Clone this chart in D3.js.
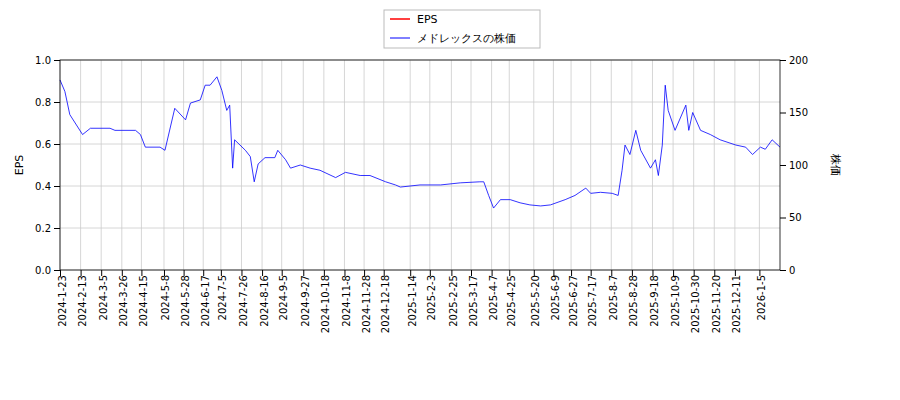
<!DOCTYPE html><html><head><meta charset="utf-8"><script src="https://cdn.jsdelivr.net/npm/d3@7"></script>
<style>body{margin:0;background:#fff}text{font-family:"DejaVu Sans",sans-serif}</style></head><body><svg id="c" width="900" height="400"></svg><script>
const tickLabels=["2024-1-23","2024-2-13","2024-3-5","2024-3-26","2024-4-15","2024-5-8","2024-5-28","2024-6-17","2024-7-5","2024-7-26","2024-8-16","2024-9-5","2024-9-27","2024-10-18","2024-11-8","2024-11-28","2024-12-18","2025-1-14","2025-2-3","2025-2-25","2025-3-17","2025-4-7","2025-4-25","2025-5-20","2025-6-9","2025-6-27","2025-7-17","2025-8-7","2025-8-28","2025-9-18","2025-10-9","2025-10-30","2025-11-20","2025-12-11","2026-1-5"];
const priceDates=["2024-01-23","2024-01-28","2024-02-02","2024-02-15","2024-02-23","2024-03-14","2024-03-19","2024-04-09","2024-04-14","2024-04-19","2024-05-04","2024-05-09","2024-05-19","2024-05-30","2024-06-04","2024-06-14","2024-06-19","2024-06-24","2024-07-01","2024-07-06","2024-07-11","2024-07-14","2024-07-17","2024-07-19","2024-07-30","2024-08-04","2024-08-08","2024-08-12","2024-08-19","2024-08-29","2024-09-01","2024-09-09","2024-09-14","2024-09-24","2024-10-04","2024-10-14","2024-10-30","2024-11-09","2024-11-24","2024-12-04","2024-12-20","2024-12-30","2025-01-04","2025-01-24","2025-02-14","2025-03-06","2025-03-26","2025-03-30","2025-04-04","2025-04-09","2025-04-16","2025-04-26","2025-05-06","2025-05-16","2025-05-27","2025-06-06","2025-06-21","2025-07-01","2025-07-12","2025-07-17","2025-07-27","2025-08-08","2025-08-14","2025-08-18","2025-08-21","2025-08-26","2025-09-01","2025-09-06","2025-09-16","2025-09-21","2025-09-24","2025-09-28","2025-10-01","2025-10-04","2025-10-11","2025-10-22","2025-10-25","2025-10-29","2025-11-06","2025-11-16","2025-11-26","2025-12-12","2025-12-22","2025-12-29","2026-01-06","2026-01-11","2026-01-18","2026-01-26"];
const priceValues=[181,170,148,129,135,135,133,133,129,117,117,114,154,143,159,162,176,176,184,171,152,157,97,124,114,108,84,101,107,107,114,105,97,100,97,95,88,93,90,90,84,81,79,81,81,83,84,84,71,59,67,67,64,62,61,62,67,71,78,73,74,73,71,95,119,110,133,114,97,105,90,119,176,152,133,157,133,150,133,129,124,119,117,110,117,115,124,117];
const epsValues=[];
const svg=d3.select("#c"),L=60,R=780,T=60,B=270;
const parse=d3.timeParse("%Y-%m-%d"),tp=d3.timeParse("%Y-%-m-%-d");
const x=d3.scaleTime().domain([parse("2024-01-23"),parse("2026-01-26")]).range([L,R]);
const yL=d3.scaleLinear().domain([0,1]).range([B,T]);
const yR=d3.scaleLinear().domain([0,200]).range([B,T]);
const tv=tickLabels.map(tp);
const g=svg.append("g");
g.selectAll(".vg").data(tv).join("line").attr("x1",d=>x(d)).attr("x2",d=>x(d)).attr("y1",T).attr("y2",B).attr("stroke","#ccc").attr("stroke-width",0.8);
g.selectAll(".hg").data(d3.range(0,1.01,0.2)).join("line").attr("x1",L).attr("x2",R).attr("y1",d=>yL(d)).attr("y2",d=>yL(d)).attr("stroke","#ccc").attr("stroke-width",0.8);
svg.append("path").datum(priceDates.map((d,i)=>[parse(d),priceValues[i]])).attr("fill","none").attr("stroke","blue").attr("stroke-width",0.8)
 .attr("d",d3.line().x(d=>x(d[0])).y(d=>yR(d[1])));
svg.append("rect").attr("x",L).attr("y",T).attr("width",R-L).attr("height",B-T).attr("fill","none").attr("stroke","#000").attr("stroke-width",0.8);
const ax=svg.append("g").attr("transform",`translate(0,${B})`).call(d3.axisBottom(x).tickValues(tv).tickFormat((d,i)=>tickLabels[i]).tickSizeOuter(0));
ax.selectAll("text").attr("transform","rotate(-90)").attr("text-anchor","end").attr("dx","-0.5em").attr("dy","-0.4em").attr("font-size",10);
ax.select(".domain").remove();
const al=svg.append("g").attr("transform",`translate(${L},0)`).call(d3.axisLeft(yL).tickValues(d3.range(0,1.01,0.2)).tickFormat(d3.format(".1f")).tickSizeOuter(0));
al.selectAll("text").attr("font-size",10);al.select(".domain").remove();
const ar=svg.append("g").attr("transform",`translate(${R},0)`).call(d3.axisRight(yR).tickValues([0,50,100,150,200]).tickSizeOuter(0));
ar.selectAll("text").attr("font-size",10);ar.select(".domain").remove();
svg.append("text").attr("transform","translate(23,165) rotate(-90)").attr("text-anchor","middle").attr("font-size",11).text("EPS");
svg.append("text").attr("transform","translate(832,165) rotate(90)").attr("text-anchor","middle").attr("font-size",11).text("株価");
const lg=svg.append("g");
lg.append("rect").attr("x",384).attr("y",10).attr("width",156).attr("height",38).attr("fill","#fff").attr("stroke","#bbb");
lg.append("line").attr("x1",390).attr("x2",410).attr("y1",19).attr("y2",19).attr("stroke","red").attr("stroke-width",1.5);
lg.append("line").attr("x1",390).attr("x2",410).attr("y1",38).attr("y2",38).attr("stroke","blue").attr("stroke-width",1);
lg.append("text").attr("x",417).attr("y",23).attr("font-size",11).text("EPS");
lg.append("text").attr("x",417).attr("y",42).attr("font-size",11).text("メドレックスの株価");
</script></body></html>
